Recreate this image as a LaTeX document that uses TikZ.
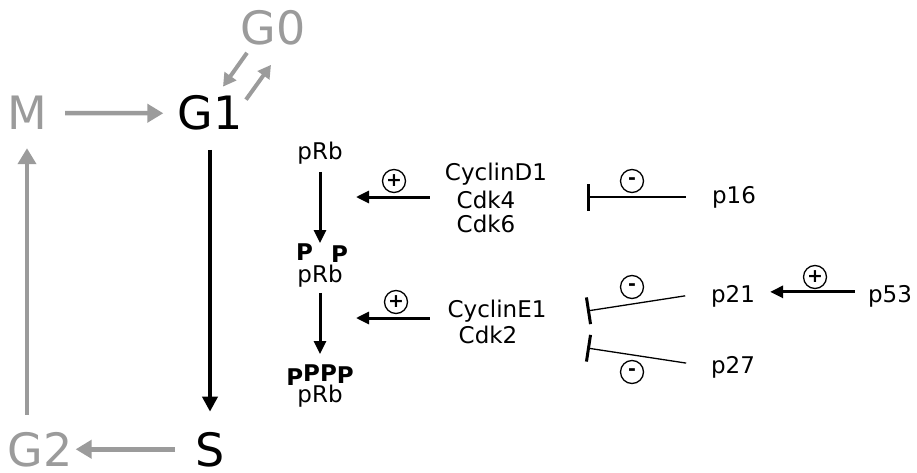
\documentclass[tikz,border=0pt]{standalone}
\usepackage{fontspec}
\setmainfont{DejaVu Sans}
\usetikzlibrary{arrows.meta,positioning,calc}
\definecolor{cyclegray}{RGB}{155,155,155}
\tikzset{
  phase/.style={font=\fontsize{46}{50}\selectfont,anchor=base,inner sep=0pt},
  mol/.style={font=\fontsize{23}{27}\selectfont,anchor=base,inner sep=0pt},
  phos/.style={font=\fontsize{23}{27}\selectfont\bfseries,anchor=base,inner sep=0pt},
  sign/.style={circle,draw,line width=1.3pt,minimum size=23pt,inner sep=0pt,font=\fontsize{19}{19}\selectfont\bfseries},
  cyclearrow/.style={cyclegray,line width=4.5pt,-{Triangle[length=16pt,width=18pt]}},
  cycleshort/.style={cyclegray,line width=4pt,-{Triangle[length=13pt,width=14pt]}},
  mainarrow/.style={line width=4.5pt,-{Triangle[length=15pt,width=15pt]}},
  act/.style={line width=3pt,-{Triangle[length=13pt,width=12pt]}},
  inhib/.style={line width=1.3pt,-{Bar[width=27pt,line width=3pt]}},
}
\begin{document}
\begin{tikzpicture}[x=1pt,y=-1pt]
      \useasboundingbox (0,0) rectangle (917,473);
      % Cell cycle
      \node[phase,cyclegray] (M)  at (27,130)  {M};
      \node[phase]           (G1) at (210,130) {G1};
      \node[phase,cyclegray] (G0) at (273,45)  {G0};
      \node[phase]           (S)  at (210,466) {S};
      \node[phase,cyclegray] (G2) at (40,466)  {G2};
      \draw[cyclearrow,shorten <=18pt,shorten >=14pt] (M) -- (G1);
      \draw[mainarrow,shorten <=19pt,shorten >=20pt] (G1) -- (S);
      \draw[cyclearrow,shorten <=20pt,shorten >=3pt] (S) -- (G2);
      \draw[cyclearrow,shorten <=17pt,shorten >=18pt] (G2.north -| M) -- (M);
      \draw[cycleshort] ([xshift=-26pt,yshift=-7pt]G0.south) -- ([xshift=13pt,yshift=9pt]G1.north);
      \draw[cycleshort] ([xshift=36pt,yshift=-4pt]G1.north) -- ([xshift=-2pt,yshift=-19pt]G0.south);
      % pRb phosphorylation
      \node[mol]  (pRb1) at (320,160) {pRb};
      \node[phos] (pp1)  at (322,260) {P\hspace{18pt}\raisebox{-2pt}{P}};
      \node[mol]  (pRb2) at (320,282) {pRb};
      \node[phos] (pp2)  at (320,385) {P\raisebox{4pt}{PP}\raisebox{2pt}{P}};
      \node[mol]  (pRb3) at (320,402) {pRb};
      \draw[act,shorten <=7pt] (pRb1) -- (pRb1 |- pp1.north);
      \draw[act,shorten <=6pt,shorten >=10pt] (pRb2) -- (pRb2 |- pp2.north);
      % Cyclin/Cdk complexes
      \node[mol] (cycD) at (496,180) {CyclinD1};
      \node[mol] (cdk4) at (486,208) {Cdk4};
      \node[mol] (cdk6) at (486,232) {Cdk6};
      \node[mol] (cycE) at (497,317) {CyclinE1};
      \node[mol] (cdk2) at (488,343) {Cdk2};
      \coordinate (hitD) at (356,197);
      \coordinate (hitE) at (356,318);
      \draw[act,shorten <=27pt] (hitD -| cdk4.west) -- (hitD);
      \draw[act,shorten <=29pt] (hitE -| cdk2.west) -- (hitE);
      \node[sign] (plusD) at (394,181) {+};
      \node[sign] (plusE) at (396,302) {+};
      % Inhibitors
      \node[mol] (p16) at (734,203) {p16};
      \node[mol] (p21) at (733,302) {p21};
      \node[mol] (p53) at (890,302) {p53};
      \node[mol] (p27) at (733,373) {p27};
      \coordinate (barD)  at (587,197);
      \coordinate (barE1) at (587,311);
      \coordinate (barE2) at (587,348);
      \draw[inhib,shorten <=26pt] (p16.west |- barD) -- (barD);
      \draw[inhib,shorten <=26pt] ([yshift=4pt]p21.west) -- (barE1);
      \draw[inhib,shorten <=25pt] (p27.west) -- (barE2);
      \draw[act,shorten <=13pt,shorten >=15pt] ([yshift=4pt]p53.west) -- ([yshift=4pt]p21.east);
      \node[sign] (minD)  at (632,181) {-};
      \node[sign] (minE1) at (632,287) {-};
      \node[sign] (minE2) at (632,372) {-};
      \node[sign] (plusP) at (815,277) {+};
    \end{tikzpicture}
\end{document}
